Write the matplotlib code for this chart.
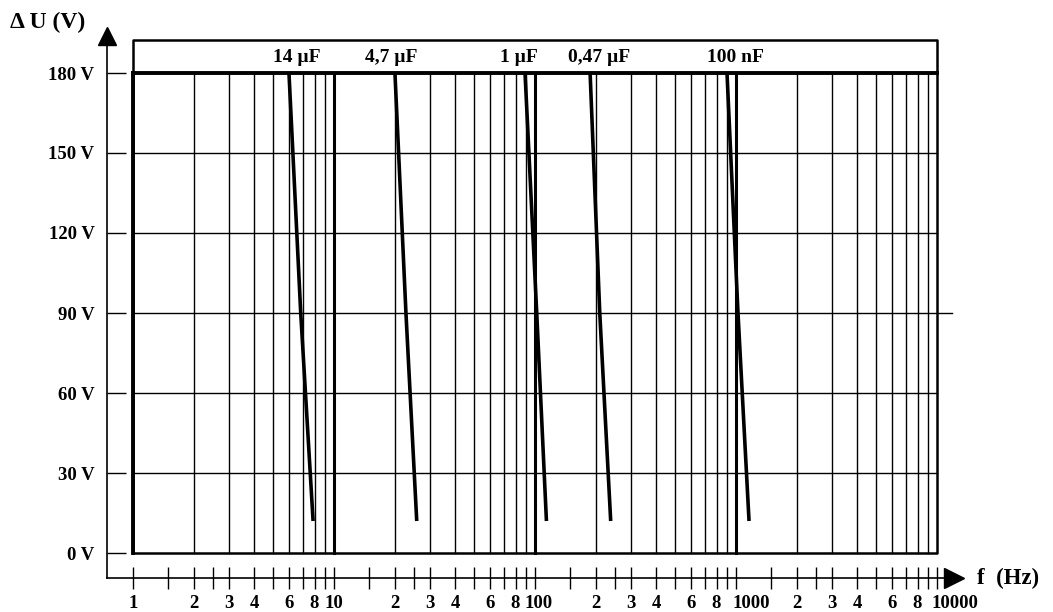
import matplotlib
matplotlib.use("Agg")
import matplotlib.pyplot as plt
import matplotlib.transforms as mtransforms
import numpy as np

plt.rcParams['font.family'] = ['Liberation Serif', 'DejaVu Serif']
plt.rcParams['font.weight'] = 'bold'

# Voltage curves: frequency (Hz) at 180 V, 90 V and ~12 V
curve_labels = ['14 µF', '4,7 µF', '1 µF', '0,47 µF', '100 nF']
curve_volts = [180, 90, 12]
curve_freqs = [
    [5.97, 6.83, 7.87],
    [20.1, 22.8, 25.8],
    [89.2, 102, 114],
    [188, 210, 238],
    [902, 1023, 1161],
]
label_freqs = [6.54, 19.2, 83.2, 208, 988]
label_volt = 186

y_ticks = [0, 30, 60, 90, 120, 150, 180]
y_ticklabels = ['0 V', '30 V', '60 V', '90 V', '120 V', '150 V', '180 V']

decades = [1, 10, 100, 1000]
grid_mults = [2, 3, 4, 5, 6, 7, 8, 9]
tick_mults = [1, 1.5, 2, 2.5, 3, 4, 5, 6, 7, 8, 9]
label_mults = {2: '2', 3: '3', 4: '4', 6: '6', 8: '8'}

# figure and axes (outer axes = left / bottom spines)
fig = plt.figure(figsize=(10.53, 6.12), dpi=100)
W, H = 1053, 612
ax = fig.add_axes([107 / W, 34 / H, 847 / W, 542 / H])
ax.set_xscale('log')
ax.set_xlim(10 ** (-26 / 201), 10 ** (821 / 201))
ax.set_ylim(-9.375, 193.875)
ax.spines['top'].set_visible(False)
ax.spines['right'].set_visible(False)
for s in ['left', 'bottom']:
    ax.spines[s].set_linewidth(1.2)

box_top = 192.4

# vertical grid
for d in decades:
    for m in grid_mults:
        ax.plot([d * m, d * m], [0, 180], color='black', lw=1.0)
for d in [10, 100, 1000]:
    ax.plot([d, d], [0, 180], color='black', lw=2.2)

# horizontal grid
for v in [30, 60, 120, 150]:
    ax.plot([1, 10000], [v, v], color='black', lw=1.0)
ax.plot([1, 11880], [90, 90], color='black', lw=1.0)
ax.plot([1, 10000], [180, 180], color='black', lw=2.8)

# box
ax.plot([1, 10000, 10000, 1, 1], [0, 0, box_top, box_top, 0], color='black', lw=1.8)
ax.plot([1, 1], [0, 180], color='black', lw=2.8)

# curves
for freqs, lab, lf in zip(curve_freqs, curve_labels, label_freqs):
    ax.plot(freqs, curve_volts, color='black', lw=2.6, solid_capstyle='butt')
    ax.text(lf, label_volt, lab, ha='center', va='center', fontsize=14, fontweight='bold')

# y ticks on outer axis
ax.set_yticks(y_ticks)
ax.set_yticklabels(y_ticklabels)
ax.tick_params(axis='y', direction='in', length=14, width=1, pad=9, labelsize=13.5)

# x ticks on outer axis
xt, xl = [], []
for d in decades:
    for m in tick_mults:
        xt.append(d * m)
        if m == 1:
            xl.append(str(d))
        else:
            xl.append(label_mults.get(m, ''))
xt.append(10000)
xl.append('10000')
ax.xaxis.set_major_locator(matplotlib.ticker.FixedLocator(xt))
ax.xaxis.set_minor_locator(matplotlib.ticker.NullLocator())
ax.set_xticklabels(xl)
ax.tick_params(axis='x', direction='inout', length=16, width=1, pad=4, labelsize=13.5)
for t in ax.get_xticklabels() + ax.get_yticklabels():
    t.set_fontweight('bold')

# shift the wide decade labels like in the original
shifts = {'100': 4, '1000': 15, '10000': 18}
for t in ax.get_xticklabels():
    s = t.get_text()
    if s in shifts:
        t.set_transform(t.get_transform() + mtransforms.ScaledTranslation(shifts[s] / 100, 0, fig.dpi_scale_trans))

# arrows
ax.plot([0], [1.0], marker='^', color='black', markersize=13, transform=ax.transAxes, clip_on=False)
ax.plot([1.0], [0], marker='>', color='black', markersize=14, transform=ax.transAxes, clip_on=False)

# axis labels
fig.text(10 / W, 1 - 22 / H, 'Δ U (V)', fontsize=17, fontweight='bold', va='center', ha='left')
fig.text(977 / W, 34 / H, 'f  (Hz)', fontsize=16.5, fontweight='bold', va='center', ha='left')

plt.savefig('out.png', dpi=100)
plt.close()
